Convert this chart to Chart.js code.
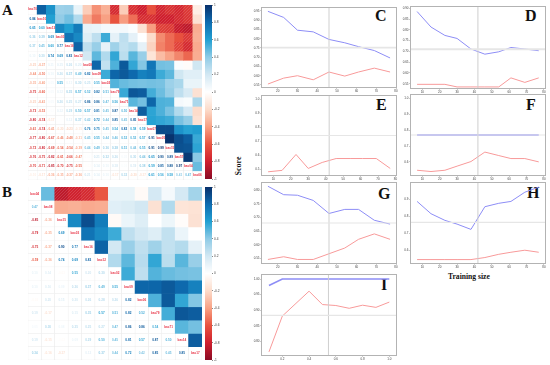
<!DOCTYPE html>
<html><head><meta charset="utf-8">
<script src="https://cdn.jsdelivr.net/npm/chart.js@4"></script>
<style>
html,body{margin:0;padding:0;background:#fff;width:550px;height:365px;overflow:hidden}
canvas{position:absolute}
.t{position:absolute;font-family:"Liberation Serif",serif;font-weight:bold;color:#111;line-height:1;white-space:nowrap}
</style></head><body>
<div class="t" style="left:2px;top:3px;font-size:15px">A</div>
<div class="t" style="left:2px;top:185px;font-size:15px">B</div>
<div class="t" style="left:375px;top:8px;font-size:16px">C</div>
<div class="t" style="left:525px;top:8px;font-size:16px">D</div>
<div class="t" style="left:376px;top:97px;font-size:16px">E</div>
<div class="t" style="left:526px;top:97px;font-size:16px">F</div>
<div class="t" style="left:378px;top:186px;font-size:16px">G</div>
<div class="t" style="left:527px;top:185px;font-size:16px">H</div>
<div class="t" style="left:381px;top:277px;font-size:16px">I</div>
<div class="t" style="left:448px;top:273px;font-size:7.6px">Training size</div>
<div class="t" style="left:230px;top:162px;font-size:8px;transform:rotate(-90deg);transform-origin:center">Score</div>
<script>
const labelsA=["bac70","bac10","bac13","bac03","bac16","bac12","bac08","bac09","bac02","bac79","bac71","bac14","bac17","bac07","bac05","bac15","bac57","bac04","bac06"];
const lowerA=[[],
[0.84],
[0.65,0.60],
[0.36,0.39,0.69],
[0.37,0.45,0.60,0.77],
[0.10,0.30,0.74,0.69,0.83],
[-0.25,-0.37,0.11,0.15,0.26,0.20],
[-0.44,-0.50,0.10,0.26,0.37,0.49,0.82],
[-0.35,-0.40,0.05,0.55,0.11,0.30,0.25,0.55],
[-0.75,-0.60,0.05,0.12,0.35,0.57,0.52,0.82,0.51],
[-0.25,-0.41,0.05,0.26,0.25,0.27,0.86,0.86,0.47,0.56],
[-0.73,-0.53,0.02,0.12,0.29,0.50,0.57,0.81,0.45,0.87,0.50],
[-0.80,-0.74,-0.17,0.00,0.12,0.37,0.42,0.72,0.44,0.85,0.45,0.85],
[-0.61,-0.74,-0.41,-0.20,-0.23,-0.15,0.76,0.75,0.45,0.54,0.82,0.58,0.59],
[-0.77,-0.80,-0.67,-0.46,-0.48,-0.31,0.45,0.55,0.44,0.46,0.52,0.52,0.57,0.91],
[-0.72,-0.80,-0.69,-0.54,-0.54,-0.39,0.44,0.49,0.36,0.38,0.51,0.44,0.55,0.91,0.99],
[-0.76,-0.75,-0.82,-0.61,-0.66,-0.47,0.02,0.21,0.32,0.26,0.05,0.30,0.44,0.65,0.90,0.89],
[-0.70,-0.71,-0.85,-0.70,-0.75,-0.55,-0.02,0.14,0.10,0.18,0.03,0.19,0.38,0.59,0.85,0.88,0.97],
[-0.10,-0.17,-0.36,-0.35,-0.37,-0.36,0.21,0.14,0.10,-0.17,0.32,-0.20,-0.17,0.61,0.56,0.58,0.41,0.47]];
const labelsB=["bac04","bac08","bac15","bac03","bac16","bac12","bac02","bac09","bac06","bac79","bac71","bac14","bac17"];
const lowerB=[[],
[0.47],
[-0.85,-0.36],
[-0.79,-0.35,0.69],
[-0.75,-0.37,0.90,0.77],
[-0.59,-0.36,0.74,0.69,0.83],
[0.10,0.14,-0.03,0.55,0.20,0.30],
[0.10,0.16,0.09,0.26,0.37,0.49,0.55],
[-0.03,0.20,0.15,0.20,0.26,0.28,0.26,0.82],
[0.19,-0.17,0.00,0.15,0.35,0.57,0.51,0.82,0.52],
[0.05,0.30,0.08,0.25,0.25,0.27,0.47,0.86,0.86,0.54],
[0.19,-0.15,-0.02,0.09,0.29,0.50,0.45,0.81,0.57,0.87,0.50],
[0.34,-0.16,-0.17,0.00,0.12,0.37,0.44,0.72,0.42,0.85,0.45,0.85]];
const colorbarTicks=[1,0.8,0.6,0.4,0.2,0,-0.2,-0.4,-0.6,-0.8,-1];
const colorStops=["#8a0b25","#cf1f2e","#e8533f","#f8a184","#fcdccb","#ffffff","#d3e8f3","#8fcbe6","#22a0d2","#0e6cb0","#08306b"];

const sizes9=[15,23,30,38,46,54,61,69,77];
const sizes10=[7,15,23,30,38,46,54,61,69,77];
const sizesI=[0.1,0.2,0.4,0.5,0.6,0.7,0.8,0.9,1.0];
const ticks20=[20,30,40,50,60,70,80];
const ticks10=[10,20,30,40,50,60,70,80];
const ticksI=[0.2,0.4,0.6,0.8,1.0];

const blueC=[0.948,0.915,0.846,0.837,0.796,0.778,0.757,0.736,0.696];
const redC=[0.555,0.587,0.600,0.578,0.620,0.598,0.620,0.641,0.620];
const yticksC=[0.95,0.90,0.85,0.80,0.75,0.70,0.65,0.60,0.55];
const blueD=[0.885,0.813,0.774,0.760,0.711,0.687,0.698,0.718,0.711,0.703];
const redD=[0.547,0.547,0.547,0.535,0.535,0.535,0.535,0.577,0.556,0.577];
const yticksD=[0.90,0.85,0.80,0.75,0.70,0.65,0.60,0.55];
const blueE=[0.743,0.743,0.743,0.743,0.743,0.743,0.743,0.743,0.743,0.743];
const redE=[0.483,0.493,0.607,0.507,0.550,0.578,0.578,0.578,0.578,0.507];
const yticksE=[1.0,0.9,0.8,0.7,0.6,0.5];
const blueF=[0.77,0.77,0.77,0.77,0.77,0.77,0.77,0.77,0.77,0.77];
const redF=[0.547,0.539,0.547,0.573,0.602,0.662,0.640,0.621,0.621,0.600];
const yticksF=[1.0,0.9,0.8,0.7,0.6];
const blueG=[0.815,0.784,0.782,0.763,0.715,0.730,0.730,0.690,0.676];
const redG=[0.546,0.556,0.546,0.546,0.567,0.588,0.620,0.640,0.620];
const yticksG=[0.80,0.75,0.70,0.65,0.60,0.55];
const blueH=[0.886,0.814,0.775,0.753,0.722,0.855,0.875,0.886,0.940,0.970];
const redH=[0.545,0.545,0.545,0.545,0.545,0.557,0.576,0.588,0.600,0.588];
const yticksH=[0.9,0.8,0.7,0.6];
const blueI=[0.979,1,1,1,1,1,1,1,1];
const redI=[0.766,0.881,0.961,0.918,0.915,0.906,0.916,0.909,0.926];
const yticksI=[1.00,0.95,0.90,0.85,0.80];

function hex(c){return [1,3,5].map(i=>parseInt(c.substr(i,2),16));}
function colorOf(v){
  const p=(v+1)*5, i=Math.min(9,Math.floor(p)), f=p-i;
  const a=hex(colorStops[i]), b=hex(colorStops[i+1]);
  return 'rgb('+a.map((x,k)=>Math.round(x+(b[k]-x)*f)).join(',')+')';
}
function hatch(col){
  const c=document.createElement('canvas');c.width=c.height=3;
  const g=c.getContext('2d');g.fillStyle=col;g.fillRect(0,0,3,3);
  g.strokeStyle='rgba(255,255,255,0.2)';g.lineWidth=0.7;
  g.beginPath();g.moveTo(-1,1);g.lineTo(1,-1);g.moveTo(0,3);g.lineTo(3,0);g.moveTo(2,4);g.lineTo(4,2);g.stroke();
  return g.createPattern(c,'repeat');
}
function addCanvas(l,t,w,h){
  const c=document.createElement('canvas');
  c.width=w;c.height=h;c.style.left=l+'px';c.style.top=t+'px';c.style.width=w+'px';c.style.height=h+'px';
  document.body.appendChild(c);return c.getContext('2d');
}
function heatmap(l,t,w,h,labels,lower,fs){
  const n=labels.length;
  const val=(r,c)=>r===c?null:(r>c?lower[r][c]:lower[c][r]);
  const datasets=labels.map((_,r)=>({
    data:labels.map(()=>1),
    backgroundColor:labels.map((_,c)=>{
      if(r>=c) return '#ffffff';
      const v=val(r,c), col=colorOf(v);
      return v<=-0.62?hatch(col):col;
    }),
    borderColor:labels.map((_,c)=>r>=c?'#e9e9e9':'rgba(0,0,0,0)'),
    borderWidth:labels.map((_,c)=>r>=c?0.5:0)
  }));
  new Chart(addCanvas(l,t,w,h),{type:'bar',
    data:{labels:labels,datasets:datasets},
    options:{responsive:false,animation:false,layout:{padding:0},
      datasets:{bar:{barPercentage:1,categoryPercentage:1}},
      plugins:{legend:{display:false},tooltip:{enabled:false}},
      scales:{x:{display:false,stacked:true},y:{display:false,stacked:true,reverse:true,min:0,max:n}}},
    plugins:[{id:'cellText',afterDatasetsDraw(ch){
      const g=ch.ctx,xs=ch.scales.x,ys=ch.scales.y;
      g.save();g.textAlign='center';g.textBaseline='middle';
      g.font='bold '+fs+'px "Liberation Sans"';
      for(let r=0;r<n;r++)for(let c=0;c<=r;c++){
        const px=xs.getPixelForValue(c),py=ys.getPixelForValue(r+0.5);
        if(r===c){g.fillStyle='#e8384a';g.fillText(labels[r],px,py);}
        else{const v=val(r,c);g.fillStyle=colorOf(v);g.fillText(v.toFixed(2),px,py);}
      }
      g.restore();
    }}]
  });
}
function colorbar(l,t,w,h){
  new Chart(addCanvas(l-2,t-5,w+22,h+10),{type:'bar',
    data:{labels:['s'],datasets:[{data:[[-1,1]],barPercentage:1,categoryPercentage:1,
      backgroundColor(ctx){
        const a=ctx.chart.chartArea;if(!a)return '#fff';
        const gr=ctx.chart.ctx.createLinearGradient(0,a.bottom,0,a.top);
        colorStops.forEach((c,i)=>gr.addColorStop(i/10,c));return gr;
      }}]},
    options:{responsive:false,animation:false,layout:{padding:{left:2,top:5,bottom:5,right:0}},
      plugins:{legend:{display:false},tooltip:{enabled:false}},
      scales:{
        x:{display:false},
        y:{position:'right',min:-1,max:1,
          afterBuildTicks(s){s.ticks=colorbarTicks.map(v=>({value:v}));},
          afterFit(s){s.width=20;},
          grid:{drawOnChartArea:false,tickLength:1,color:'#888'},border:{display:false},
          ticks:{font:{size:3.2,family:'Liberation Sans'},color:'#444',padding:1,autoSkip:false,
            callback:v=>String(v)}}
      }}
  });
}
function panel(fx,fy,fw,fh,opt){
  const ml=18,mt=5,mr=5,mb=10;
  const pts=(xs,ys)=>xs.map((x,i)=>({x:x,y:ys[i]}));
  const lineW=opt.blueW||1;
  new Chart(addCanvas(fx-ml,fy-mt,fw+ml+mr,fh+mt+mb),{type:'line',
    data:{datasets:[
      {data:[{x:opt.xr[0],y:opt.h},{x:opt.xr[1],y:opt.h}],borderColor:'#e6e6e6',borderWidth:opt.hW||1.2,pointRadius:0},
      {data:[{x:opt.v,y:opt.yr[0]},{x:opt.v,y:opt.yr[1]}],borderColor:'#cfcfcf',borderWidth:1,pointRadius:0},
      {data:pts(opt.xs,opt.blue),borderColor:'#8d8df6',borderWidth:lineW,pointRadius:0,tension:0},
      {data:pts(opt.xs,opt.red),borderColor:'#f89a9a',borderWidth:1,pointRadius:0,tension:0}
    ]},
    options:{responsive:false,animation:false,layout:{padding:{left:0,top:mt,right:mr,bottom:0}},
      plugins:{legend:{display:false},tooltip:{enabled:false}},
      scales:{
        x:{type:'linear',min:opt.xr[0],max:opt.xr[1],
          afterBuildTicks(s){s.ticks=opt.xt.map(v=>({value:v}));},
          afterFit(s){s.height=mb;},
          grid:{drawOnChartArea:false,tickLength:1.5,color:'#999'},border:{display:false},
          ticks:{font:{size:3,family:'Liberation Sans'},color:'#444',padding:1,maxRotation:0,autoSkip:false,
            callback:v=>opt.xd?v.toFixed(opt.xd):String(v)}},
        y:{type:'linear',min:opt.yr[0],max:opt.yr[1],
          afterBuildTicks(s){s.ticks=opt.yt.map(v=>({value:v}));},
          afterFit(s){s.width=ml;},
          grid:{drawOnChartArea:false,tickLength:1.5,color:'#999'},border:{display:false},
          ticks:{font:{size:3,family:'Liberation Sans'},color:'#444',padding:1,autoSkip:false,
            callback:v=>v.toFixed(opt.yd)}}
      }},
    plugins:[{id:'frame',afterDraw(ch){
      const a=ch.chartArea,g=ch.ctx;g.save();g.strokeStyle='#b3b3b3';g.lineWidth=1;
      g.strokeRect(Math.round(a.left)-0.5,Math.round(a.top)-0.5,Math.round(a.right-a.left)+1,Math.round(a.bottom-a.top)+1);g.restore();
    }}]
  });
}
heatmap(28,5,174,175,labelsA,lowerA,3.1);
heatmap(28,187,174,173,labelsB,lowerB,3.1);
colorbar(205,5,7,174);
colorbar(205,187,7,173);
const wL=134,wR=134;
panel(262,8,wL,79,{xs:sizes9,blue:blueC,red:redC,xr:[12,80],yr:[0.539,0.966],xt:ticks20,yt:yticksC,yd:2,h:0.752,v:46,hW:1.6});
panel(411,7,wR,81,{xs:sizes10,blue:blueD,red:redD,xr:[3.5,80.6],yr:[0.53,0.906],xt:ticks10,yt:yticksD,yd:2,h:0.71,v:42,hW:2});
panel(262,96,wL,79,{xs:sizes10,blue:blueE,red:redE,xr:[3.5,80.3],yr:[0.46,1.026],xt:ticks10,yt:yticksE,yd:1,h:0.743,v:42});
panel(411,95,wR,80,{xs:sizes10,blue:blueF,red:redF,xr:[3.5,80.6],yr:[0.517,1.023],xt:ticks10,yt:yticksF,yd:1,h:0.77,v:42,blueW:1.6});
panel(262,183,wL,80,{xs:sizes9,blue:blueG,red:redG,xr:[12,80],yr:[0.533,0.827],xt:ticks20,yt:yticksG,yd:2,h:0.68,v:46});
panel(411,183,wR,80,{xs:sizes10,blue:blueH,red:redH,xr:[3.5,80.6],yr:[0.525,0.994],xt:ticks10,yt:yticksH,yd:1,h:0.763,v:42});
panel(262,275,wL,80,{xs:sizesI,blue:blueI,red:redI,xr:[0.048,1.05],yr:[0.756,1.013],xt:ticksI,xd:1,yt:yticksI,yd:2,h:0.883,v:0.545,blueW:1.6});
</script>
</body></html>
